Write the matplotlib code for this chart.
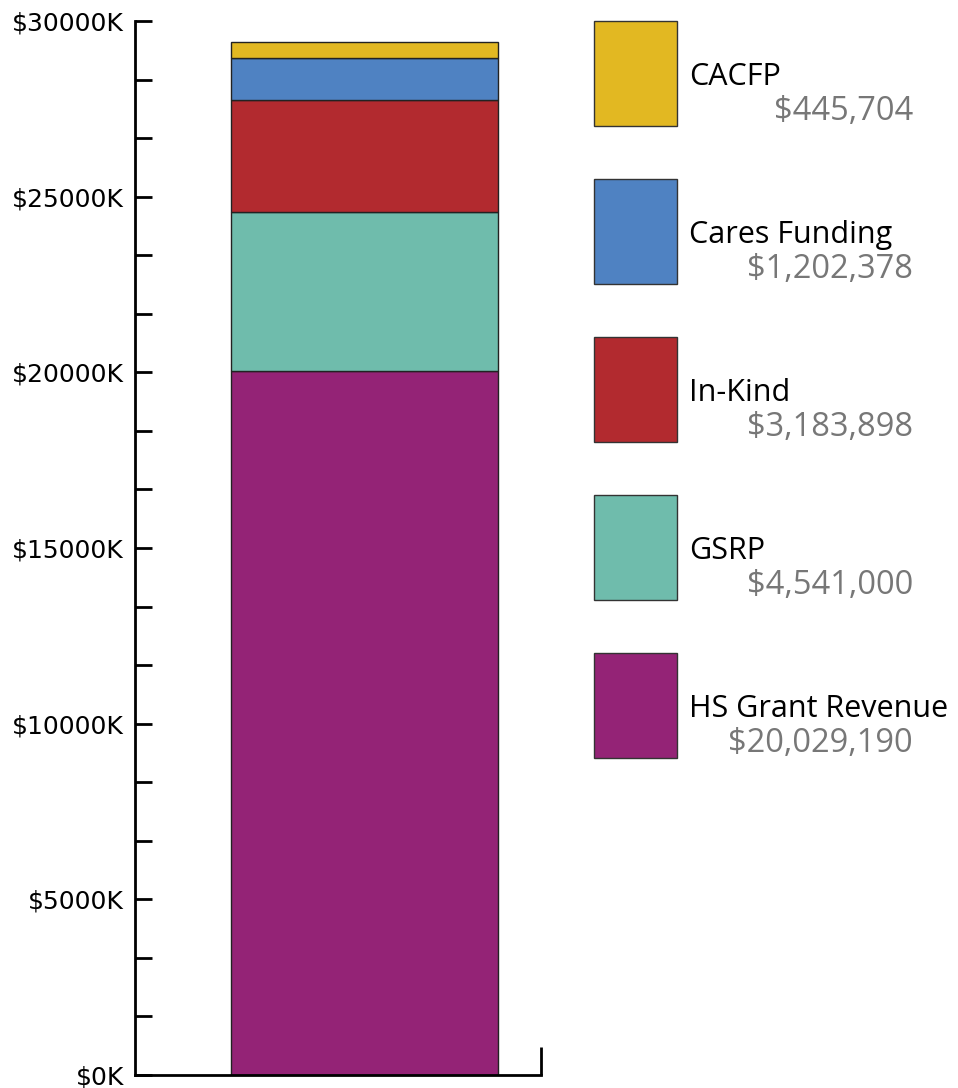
import matplotlib
matplotlib.use("Agg")
import matplotlib.pyplot as plt
from matplotlib.patches import Rectangle

# funding sources, bottom to top
sources = ["HS Grant Revenue", "GSRP", "In-Kind", "Cares Funding", "CACFP"]
amounts = [20029190, 4541000, 3183898, 1202378, 445704]
colors = ["#942376", "#6FBCAC", "#B22A2F", "#4F82C2", "#E2B822"]
yticks_k = [0, 5000, 10000, 15000, 20000, 25000, 30000]

W, H = 958, 1088
fig = plt.figure(figsize=(W / 100, H / 100), dpi=100)
ax = fig.add_axes([135 / W, 1 - 1075 / H, 406 / W, (1075 - 21) / H])

bottom = 0
for name, val, c in zip(sources, amounts, colors):
    ax.bar(0, val / 1000, width=0.8, bottom=bottom, color=c,
           edgecolor="#222222", linewidth=1)
    bottom += val / 1000

ax.set_xlim(-0.6876, 0.5288)
ax.set_ylim(0, 30000)
ax.set_yticks(yticks_k)
ax.set_yticklabels([f"${v}K" for v in yticks_k])
minor = [v * 5000 / 3 for v in range(19)]
ax.set_yticks(minor, minor=True)
ax.tick_params(axis="y", which="both", direction="in", length=12, width=2,
               labelsize=18, pad=8)
ax.set_xticks([0.5288])
ax.set_xticklabels([])
ax.tick_params(axis="x", direction="in", length=20, width=2)
for s in ["top", "right"]:
    ax.spines[s].set_visible(False)
for s in ["left", "bottom"]:
    ax.spines[s].set_linewidth(2)

# legend on the right, top entry first
font = "Open Sans"
for i, (name, val, c) in enumerate(zip(sources[::-1], amounts[::-1], colors[::-1])):
    top = 21 + i * 158
    fig.patches.append(Rectangle((594 / W, 1 - (top + 105) / H), 83 / W, 105 / H,
                                 transform=fig.transFigure, facecolor=c,
                                 edgecolor="#333333", linewidth=1))
    fig.text(689 / W, 1 - (top + 56) / H, name, fontsize=22, family=font,
             va="center", ha="left", color="black")
    fig.text(913 / W, 1 - (top + 90) / H, f"${val:,}", fontsize=23.5, family=font,
             va="center", ha="right", color="#777777")

fig.savefig("out.png", dpi=100)
